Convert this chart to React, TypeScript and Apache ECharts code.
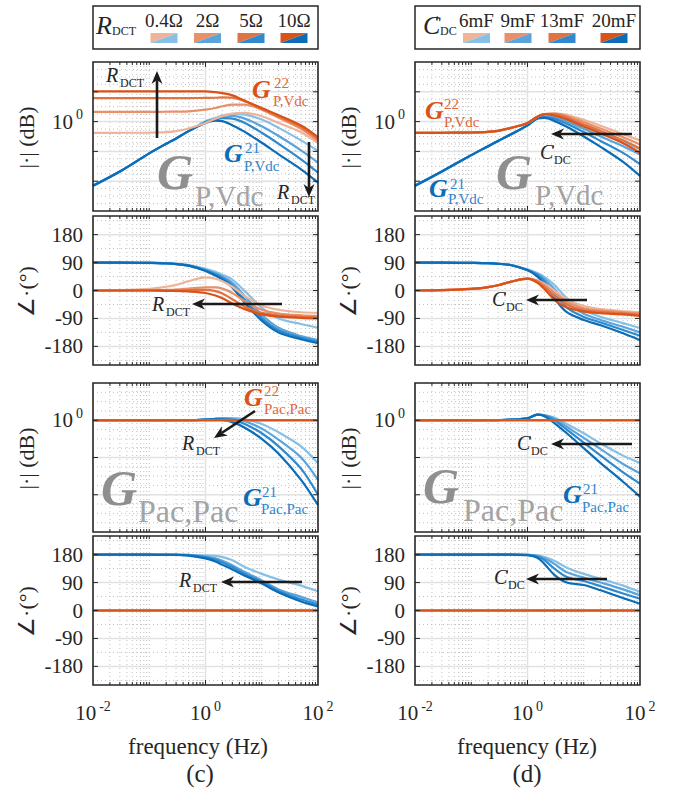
import React, { useEffect, useRef } from "react";
import * as echarts from "echarts";

// ---------------- data ----------------
const FREQ = [0.01, 0.03, 0.1, 0.2, 0.3, 0.5, 1, 1.5, 2, 3, 5, 10, 20, 50, 100];

const R_DCT_LABELS = ["0.4Ω", "2Ω", "5Ω", "10Ω"];
const C_DC_LABELS = ["6mF", "9mF", "13mF", "20mF"];
const X_LABEL_EXPONENTS = [-2, 0, 2];
const PHASE_TICKS = [-180, -90, 0, 90, 180];
const MAG_TICK_LABELLED = 0;

const ZERO15 = [0, 0, 0, 0, 0, 0, 0, 0, 0, 0, 0, 0, 0, 0, 0];

// (c) sweep of R_DCT : 0.4, 2, 5, 10 ohm
const cMagG21 = [
  [-43.1, -33.5, -21.3, -14.9, -11.3, -6.4, 0.3, 2.5, 4.0, 5.1, 4.7, 1.4, -4.2, -12.6, -19.7],
  [-43.1, -33.5, -21.3, -14.9, -11.3, -6.4, -0.2, 1.8, 3.1, 3.8, 2.0, -3.1, -9.7, -19.3, -27.5],
  [-43.1, -33.5, -21.3, -14.9, -11.3, -6.4, -0.4, 1.4, 2.3, 2.0, -0.9, -7.5, -14.9, -25.3, -34.2],
  [-43.1, -33.5, -21.3, -14.9, -11.3, -6.4, -0.9, 0.7, 0.3, -2.4, -6.9, -14.2, -22.0, -32.0, -40.9],
];
const cMagG22 = [
  [-7.5, -7.5, -7.4, -7.1, -6.4, -4.6, -0.9, 2.0, 3.6, 5.4, 5.8, 3.6, -0.9, -7.1, -14.4],
  [6.5, 6.5, 6.5, 6.6, 6.7, 6.9, 8.0, 9.1, 10.3, 11.4, 11.4, 8.0, 2.5, -4.9, -13.1],
  [15.8, 15.8, 15.8, 15.8, 15.8, 15.8, 15.9, 16.0, 16.3, 16.0, 13.6, 8.5, 3.4, -3.7, -11.7],
  [20.3, 20.3, 20.3, 20.3, 20.3, 20.3, 20.3, 19.8, 19.1, 17.6, 14.0, 9.1, 4.3, -2.6, -10.4],
];
const cPhG21 = [
  [90, 90, 89, 88, 86, 82, 70, 60, 51, 35, -2, -55, -90, -108, -120],
  [90, 90, 89, 88, 86, 81, 67, 55, 45, 25, -18, -78, -120, -147, -160],
  [90, 90, 89, 88, 85, 80, 65, 52, 40, 17, -30, -88, -128, -152, -165],
  [90, 90, 89, 87, 85, 80, 63, 48, 35, 10, -40, -97, -135, -157, -170],
];
const cPhG22 = [
  [0, 1, 5, 12, 18, 30, 42, 38, 30, 12, -18, -48, -62, -70, -72],
  [0, 0, 1, 2, 3, 6, 10, 10, 6, -8, -35, -62, -74, -80, -82],
  [0, 0, 0, 0, 0, 1, 2, -2, -10, -28, -52, -72, -80, -85, -87],
  [0, 0, 0, -1, -1, -3, -8, -16, -25, -42, -60, -77, -84, -88, -90],
];
const cPacMagG21 = [
  [0, 0, 0, 0, 0, 0, 0.3, 0.8, 1.1, 1.2, 0.5, -2.0, -6.5, -14.0, -23.0],
  [0, 0, 0, 0, 0, 0, 0.3, 0.8, 1.0, 0.8, -0.5, -4.5, -10.5, -20.0, -32.0],
  [0, 0, 0, 0, 0, 0, 0.3, 0.7, 0.8, 0.2, -2.0, -7.0, -14.0, -26.0, -40.0],
  [0, 0, 0, 0, 0, 0, 0.3, 0.5, 0.2, -1.0, -4.0, -10.0, -18.0, -32.0, -45.5],
];
const cPacMagG22 = [ZERO15, ZERO15, ZERO15, ZERO15];
const cPacPhG21 = [
  [180, 180, 180, 180, 180, 179, 178, 176, 172, 162, 140, 118, 100, 80, 62],
  [180, 180, 180, 180, 180, 179, 174, 168, 160, 146, 124, 97, 68, 44, 26],
  [180, 180, 180, 180, 179, 178, 172, 164, 155, 140, 118, 92, 63, 36, 19],
  [180, 180, 180, 179, 179, 177, 168, 158, 147, 132, 112, 87, 58, 29, 13],
];
const cPacPhG22 = [ZERO15, ZERO15, ZERO15, ZERO15];

// (d) sweep of C_DC : 6, 9, 13, 20 mF
const dMagG21 = [
  [-43.1, -33.5, -22.5, -16.5, -13.0, -8.7, -2.5, 2.3, 3.2, 3.3, 1.2, -3.0, -7.5, -13.5, -18.6],
  [-43.1, -33.5, -22.5, -16.5, -13.0, -8.7, -2.5, 2.3, 3.1, 2.8, 0.0, -4.8, -10.0, -16.5, -22.0],
  [-43.1, -33.5, -22.5, -16.5, -13.0, -8.7, -2.5, 2.3, 3.0, 2.0, -1.5, -7.0, -13.0, -21.0, -28.6],
  [-43.1, -33.5, -22.5, -16.5, -13.0, -8.7, -2.5, 2.2, 2.5, 0.5, -3.5, -10.0, -17.0, -27.0, -36.4],
];
const dMagG22 = [
  [-7.5, -7.5, -7.3, -6.9, -6.2, -4.3, -0.9, 3.3, 5.0, 5.6, 4.6, 1.2, -2.8, -8.5, -12.6],
  [-7.5, -7.5, -7.3, -6.9, -6.2, -4.3, -0.9, 3.3, 5.0, 5.4, 3.8, -0.3, -4.6, -10.5, -15.3],
  [-7.5, -7.5, -7.3, -6.9, -6.2, -4.3, -0.9, 3.3, 5.0, 5.0, 2.8, -1.8, -6.3, -12.5, -18.0],
  [-7.5, -7.5, -7.3, -6.9, -6.2, -4.3, -0.9, 3.3, 4.8, 4.2, 1.5, -3.3, -8.0, -14.5, -20.9],
];
const dPhG21 = [
  [90, 90, 89, 88, 86, 82, 68, 56, 44, 18, -25, -63, -85, -105, -121],
  [90, 90, 89, 88, 86, 82, 67, 53, 38, 5, -40, -75, -95, -117, -135],
  [90, 90, 89, 88, 86, 82, 66, 50, 30, -10, -55, -85, -103, -127, -146],
  [90, 90, 89, 88, 86, 82, 65, 45, 20, -25, -70, -95, -112, -138, -160],
];
const dPhG22 = [
  [0, 1, 5, 11, 17, 28, 38, 33, 22, 0, -28, -50, -60, -66, -70],
  [0, 1, 5, 11, 17, 28, 38, 31, 17, -8, -37, -57, -65, -70, -74],
  [0, 1, 5, 11, 17, 28, 38, 28, 11, -18, -46, -63, -69, -74, -78],
  [0, 1, 5, 11, 17, 28, 38, 25, 5, -30, -55, -68, -73, -77, -82],
];
const dPacMagG21 = [
  [0, 0, 0, 0, 0.1, 0.3, 1.0, 3.0, 2.8, 1.5, -2.0, -7.0, -12.5, -19.0, -23.0],
  [0, 0, 0, 0, 0.1, 0.3, 1.0, 3.0, 2.7, 0.8, -3.5, -9.5, -15.5, -23.5, -28.5],
  [0, 0, 0, 0, 0.1, 0.3, 1.0, 3.0, 2.5, 0.0, -5.0, -12.0, -19.0, -28.0, -34.0],
  [0, 0, 0, 0, 0.1, 0.3, 1.0, 3.0, 2.2, -1.5, -7.0, -15.0, -23.0, -33.0, -41.0],
];
const dPacMagG22 = [ZERO15, ZERO15, ZERO15, ZERO15];
const dPacPhG21 = [
  [180, 180, 180, 180, 180, 180, 179, 178, 172, 160, 138, 118, 102, 80, 60],
  [180, 180, 180, 180, 180, 180, 179, 176, 168, 150, 123, 106, 90, 68, 49],
  [180, 180, 180, 180, 180, 180, 179, 174, 162, 135, 108, 95, 78, 55, 38],
  [180, 180, 180, 180, 180, 180, 178, 170, 150, 115, 90, 82, 65, 40, 22],
];
const dPacPhG22 = [ZERO15, ZERO15, ZERO15, ZERO15];

// ---------------- styles ----------------
const ORANGE = ["#EFB398", "#E8906A", "#E27340", "#D95319"];
const BLUE = ["#86C0E6", "#5AA4DB", "#2E89CF", "#0B6DB7"];
const SERIF = "Liberation Serif";
const INK = "#262626";

const COL_LEFT = [93, 415];
const PLOT_W = 225;
const ROW_TOP = [62, 216, 383, 536];
const PLOT_H = 149;
// [min, max, interval]
const Y_RANGE = [
  [-60, 40, 20],
  [-240, 240, 30],
  [-60, 20, 20],
  [-240, 240, 30],
];

const X_MINOR: number[] = [];
[-2, -1, 0, 1].forEach((d) => {
  for (let k = 1; k <= 9; k++) {
    if (k === 1 && (d === -2 || d === 0)) continue;
    X_MINOR.push(k * Math.pow(10, d));
  }
});
const X_MAJOR_INNER = [1];

function yGrid(row: number) {
  const [mn, mx] = Y_RANGE[row];
  const major: number[] = [];
  const minor: number[] = [];
  if (row === 1 || row === 3) {
    PHASE_TICKS.forEach((v) => major.push(v));
    [-225, -135, -45, 45, 135, 225].forEach((v) => minor.push(v));
  } else {
    for (let v = mn; v <= mx; v += 5) {
      if (v === mn || v === mx) continue;
      if (v % 20 === 0) major.push(v);
      else minor.push(v);
    }
  }
  return { major, minor };
}

const TICK_RICH = {
  b: { fontSize: 21, fontFamily: SERIF, color: INK, lineHeight: 28 },
  s: { fontSize: 14, fontFamily: SERIF, color: INK, lineHeight: 14, verticalAlign: "top", padding: [0, 0, 0, 3] },
};

function txt(x: number, y: number, text: string, size: number, o: any = {}) {
  return {
    type: "text",
    x,
    y,
    z: 100,
    silent: true,
    rotation: o.rot || 0,
    style: {
      text,
      fontSize: size,
      fontFamily: SERIF,
      fontStyle: o.italic ? "italic" : "normal",
      fontWeight: o.bold ? "bold" : "normal",
      fill: o.fill || INK,
      align: o.align || "left",
      verticalAlign: "middle",
    },
  };
}

function arrow(x1: number, y1: number, x2: number, y2: number) {
  const a = Math.atan2(y2 - y1, x2 - x1);
  const L = 13;
  const Wd = 5.5;
  const c = Math.cos(a);
  const s = Math.sin(a);
  const bx = x2 - L * c;
  const by = y2 - L * s;
  const nx = x2 - L * 0.7 * c;
  const ny = y2 - L * 0.7 * s;
  const px = -s * Wd;
  const py = c * Wd;
  return [
    { type: "line", z: 99, silent: true, shape: { x1, y1, x2: nx, y2: ny }, style: { stroke: "#1a1a1a", lineWidth: 2.6 } },
    {
      type: "polygon",
      z: 99,
      silent: true,
      shape: { points: [[x2, y2], [bx + px, by + py], [nx, ny], [bx - px, by - py]] },
      style: { fill: "#1a1a1a" },
    },
  ];
}

// small serif tick on the italic C (as drawn in the reference)
function cMark(x: number, y: number, s: number) {
  return {
    type: "line",
    z: 101,
    silent: true,
    shape: { x1: x, y1: y, x2: x - 0.8 * s, y2: y + 4 * s },
    style: { stroke: INK, lineWidth: 1.4 * s },
  };
}

const O_MAIN = "#D95319";
const O_SUB = "#E0683A";
const B_MAIN = "#0B6DB7";
const B_SUB = "#2F86CF";
const G_MAIN = "#8f8f8f";
const G_SUB = "#a3a3a3";

function gLabel(x: number, y: number, sup: string, sub: string, main: string, subc: string, supDx: number, supDy: number, subDy: number, subDx: number) {
  return [
    txt(x, y, "G", 26, { italic: true, bold: true, fill: main }),
    txt(x + supDx, y + supDy, sup, 15, { fill: subc }),
    txt(x + subDx, y + subDy, sub, 15, { fill: subc }),
  ];
}

function rLabel(x: number, y: number) {
  return [txt(x, y, "R", 20, { italic: true }), txt(x + 14, y + 8, "DCT", 12)];
}
function cLabel(x: number, y: number) {
  return [txt(x, y, "C", 20, { italic: true }), cMark(x + 13.5, y - 6.5, 0.8), txt(x + 14, y + 8, "DC", 12)];
}

function buildGraphics() {
  const g: any[] = [];
  // legend boxes
  g.push({ type: "rect", z: 90, silent: true, shape: { x: 93, y: 6, width: 225, height: 43 }, style: { fill: "#fff", stroke: INK, lineWidth: 1.5 } });
  g.push({ type: "rect", z: 90, silent: true, shape: { x: 415, y: 6, width: 225, height: 43 }, style: { fill: "#fff", stroke: INK, lineWidth: 1.5 } });
  g.push(txt(96, 25, "R", 26, { italic: true }));
  g.push(txt(112, 31, "DCT", 12));
  g.push(txt(423, 25, "C", 26, { italic: true }));
  g.push(cMark(437.5, 16.5, 1));
  g.push(txt(440, 31, "DC", 12));
  const lCent = [164, 207.5, 251, 294];
  const rCent = [476.5, 518, 562, 614];
  const sw = (cx: number, i: number) => {
    const x0 = cx - 13.5, x1 = cx + 13.5, y0 = 33, y1 = 43;
    g.push({ type: "polygon", z: 95, silent: true, shape: { points: [[x0, y0], [x1, y0], [x0, y1]] }, style: { fill: ORANGE[i] } });
    g.push({ type: "polygon", z: 95, silent: true, shape: { points: [[x1, y0], [x1, y1], [x0, y1]] }, style: { fill: BLUE[i] } });
  };
  R_DCT_LABELS.forEach((t, i) => {
    g.push(txt(lCent[i], 20, t, 19, { align: "center" }));
    sw(lCent[i], i);
  });
  C_DC_LABELS.forEach((t, i) => {
    g.push(txt(rCent[i], 20, t, 19, { align: "center" }));
    sw(rCent[i], i);
  });

  // y-axis names
  const yNames = ["|·| (dB)", "∠·(°)", "|·| (dB)", "∠·(°)"];
  ROW_TOP.forEach((t, r) => {
    [26, 348].forEach((x) => g.push(txt(x, t + PLOT_H / 2 + 1, yNames[r], 22, { rot: Math.PI / 2, align: "center" })));
  });
  // x-axis names and panel tags
  g.push(txt(198, 746, "frequency (Hz)", 23, { align: "center" }));
  g.push(txt(527, 746, "frequency (Hz)", 23, { align: "center" }));
  g.push(txt(200, 773, "(c)", 25, { align: "center" }));
  g.push(txt(527, 773, "(d)", 25, { align: "center" }));

  // ---- (c) annotations
  g.push(...rLabel(106, 75));
  g.push(...arrow(157, 138, 157, 71));
  g.push(...gLabel(252, 89, "22", "P,Vdc", O_MAIN, O_SUB, 22, -6, 12, 21));
  g.push(...gLabel(224, 153, "21", "P,Vdc", B_MAIN, B_SUB, 21, -5, 13, 20));
  g.push(txt(157, 172, "G", 50, { italic: true, bold: true, fill: G_MAIN }));
  g.push(txt(195, 196, "P,Vdc", 29, { fill: G_SUB }));
  g.push(...arrow(309, 142, 309, 197));
  g.push(...rLabel(277, 192));

  g.push(...arrow(282, 304, 192, 304));
  g.push(...rLabel(152, 304));

  g.push(...gLabel(244, 397, "22", "Pac,Pac", O_MAIN, O_SUB, 20, -6, 12, 20));
  g.push(...arrow(255, 411, 214, 438));
  g.push(...rLabel(182, 443));
  g.push(txt(101, 488, "G", 50, { italic: true, bold: true, fill: G_MAIN }));
  g.push(txt(138, 511, "Pac,Pac", 32, { fill: G_SUB }));
  g.push(...gLabel(243, 497, "21", "Pac,Pac", B_MAIN, B_SUB, 19, -5, 12, 18));

  g.push(...arrow(302, 582, 221, 582));
  g.push(...rLabel(179, 580));

  // ---- (d) annotations
  g.push(...gLabel(425, 110, "22", "P,Vdc", O_MAIN, O_SUB, 19, -6, 12, 19));
  g.push(...arrow(632, 134, 551, 134));
  g.push(...cLabel(540, 152));
  g.push(txt(496, 172, "G", 50, { italic: true, bold: true, fill: G_MAIN }));
  g.push(txt(535, 195, "P,Vdc", 29, { fill: G_SUB }));
  g.push(...gLabel(429, 188, "21", "P,Vdc", B_MAIN, B_SUB, 21, -4, 11, 19));

  g.push(...arrow(587, 300, 526, 300));
  g.push(...cLabel(492, 299));

  g.push(...arrow(632, 444, 551, 444));
  g.push(...cLabel(517, 443));
  g.push(txt(423, 486, "G", 50, { italic: true, bold: true, fill: G_MAIN }));
  g.push(txt(463, 510, "Pac,Pac", 32, { fill: G_SUB }));
  g.push(...gLabel(563, 494, "21", "Pac,Pac", B_MAIN, B_SUB, 20, -5, 13, 19));

  g.push(...arrow(607, 579, 526, 579));
  g.push(...cLabel(494, 577));
  return g;
}

function bgRender(row: number) {
  const { major, minor } = yGrid(row);
  return (params: any, api: any) => {
    const cs = params.coordSys;
    const L = cs.x, T = cs.y, R = cs.x + cs.width, B = cs.y + cs.height;
    const ch: any[] = [];
    const dotted = { stroke: "#c2c2c2", lineWidth: 1, lineDash: [1, 3] };
    const solid = { stroke: "#e1e1e1", lineWidth: 1.5 };
    X_MINOR.forEach((v) => {
      const x = api.coord([v, 0])[0];
      ch.push({ type: "line", shape: { x1: x, y1: T, x2: x, y2: B }, style: dotted });
    });
    minor.forEach((v) => {
      const y = api.coord([1, v])[1];
      ch.push({ type: "line", shape: { x1: L, y1: y, x2: R, y2: y }, style: dotted });
    });
    X_MAJOR_INNER.forEach((v) => {
      const x = api.coord([v, 0])[0];
      ch.push({ type: "line", shape: { x1: x, y1: T, x2: x, y2: B }, style: solid });
    });
    major.forEach((v) => {
      const y = api.coord([1, v])[1];
      ch.push({ type: "line", shape: { x1: L, y1: y, x2: R, y2: y }, style: solid });
    });
    return { type: "group", children: ch };
  };
}

function frameRender(row: number) {
  const { major } = yGrid(row);
  return (params: any, api: any) => {
    const cs = params.coordSys;
    const L = cs.x, T = cs.y, R = cs.x + cs.width, B = cs.y + cs.height;
    const ch: any[] = [];
    const st = { stroke: INK, lineWidth: 1 };
    X_MINOR.forEach((v) => {
      const x = api.coord([v, 0])[0];
      ch.push({ type: "line", shape: { x1: x, y1: B, x2: x, y2: B - 3 }, style: st });
      ch.push({ type: "line", shape: { x1: x, y1: T, x2: x, y2: T + 3 }, style: st });
    });
    X_MAJOR_INNER.forEach((v) => {
      const x = api.coord([v, 0])[0];
      ch.push({ type: "line", shape: { x1: x, y1: B, x2: x, y2: B - 5 }, style: st });
      ch.push({ type: "line", shape: { x1: x, y1: T, x2: x, y2: T + 5 }, style: st });
    });
    major.forEach((v) => {
      const y = api.coord([1, v])[1];
      ch.push({ type: "line", shape: { x1: L, y1: y, x2: L + 5, y2: y }, style: st });
      ch.push({ type: "line", shape: { x1: R, y1: y, x2: R - 5, y2: y }, style: st });
    });
    ch.push({ type: "rect", shape: { x: L, y: T, width: R - L, height: B - T }, style: { fill: "none", stroke: INK, lineWidth: 1.6 } });
    return { type: "group", children: ch };
  };
}

function buildOption() {
  const panels = [
    [cMagG21, cMagG22],
    [cPhG21, cPhG22],
    [cPacMagG21, cPacMagG22],
    [cPacPhG21, cPacPhG22],
    [dMagG21, dMagG22],
    [dPhG21, dPhG22],
    [dPacMagG21, dPacMagG22],
    [dPacPhG21, dPacPhG22],
  ];
  const grid: any[] = [];
  const xAxis: any[] = [];
  const yAxis: any[] = [];
  const series: any[] = [];
  panels.forEach((p, i) => {
    const col = Math.floor(i / 4);
    const row = i % 4;
    const [mn, mx, iv] = Y_RANGE[row];
    grid.push({ left: COL_LEFT[col], top: ROW_TOP[row], width: PLOT_W, height: PLOT_H, containLabel: false });
    xAxis.push({
      type: "log",
      logBase: 10,
      gridIndex: i,
      min: 0.01,
      max: 100,
      axisLine: { show: false },
      axisTick: { show: false },
      splitLine: { show: false },
      axisLabel:
        row === 3
          ? {
              show: true,
              margin: 14,
              formatter: (v: number) => {
                const e = Math.round(Math.log10(v));
                return X_LABEL_EXPONENTS.includes(e) ? `{b|10}{s|${e}}` : "";
              },
              rich: TICK_RICH,
            }
          : { show: false },
    });
    const isPhase = row === 1 || row === 3;
    yAxis.push({
      type: "value",
      gridIndex: i,
      min: mn,
      max: mx,
      interval: iv,
      axisLine: { show: false },
      axisTick: { show: false },
      splitLine: { show: false },
      axisLabel: {
        show: true,
        margin: 10,
        fontSize: 21,
        fontFamily: SERIF,
        color: INK,
        formatter: isPhase
          ? (v: number) => (PHASE_TICKS.includes(v) ? String(v) : "")
          : (v: number) => (Math.abs(v - MAG_TICK_LABELLED) < 1e-9 ? "{b|10}{s|0}" : ""),
        rich: TICK_RICH,
      },
    });
    series.push({
      type: "custom",
      xAxisIndex: i,
      yAxisIndex: i,
      silent: true,
      z: 1,
      data: [[1, 0]],
      renderItem: bgRender(row),
    });
    const [g21, g22] = p;
    g21.forEach((vals, k) =>
      series.push({
        type: "line",
        xAxisIndex: i,
        yAxisIndex: i,
        data: FREQ.map((f, j) => [f, vals[j]]),
        showSymbol: false,
        symbol: "none",
        smooth: 0.3,
        clip: true,
        silent: true,
        z: 3,
        lineStyle: { width: 2.2, color: BLUE[k] },
      })
    );
    g22.forEach((vals, k) =>
      series.push({
        type: "line",
        xAxisIndex: i,
        yAxisIndex: i,
        data: FREQ.map((f, j) => [f, vals[j]]),
        showSymbol: false,
        symbol: "none",
        smooth: 0.3,
        clip: true,
        silent: true,
        z: 4,
        lineStyle: { width: 2.2, color: ORANGE[k] },
      })
    );
    series.push({
      type: "custom",
      xAxisIndex: i,
      yAxisIndex: i,
      silent: true,
      z: 10,
      data: [[1, 0]],
      renderItem: frameRender(row),
    });
  });
  return {
    animation: false,
    backgroundColor: "#ffffff",
    textStyle: { fontFamily: SERIF },
    grid,
    xAxis,
    yAxis,
    series,
    graphic: { elements: buildGraphics() },
  };
}

export default function App() {
  const ref = useRef<HTMLDivElement>(null);
  useEffect(() => {
    if (!ref.current) return;
    const chart = echarts.init(ref.current, undefined, { renderer: "svg" });
    chart.setOption(buildOption() as any);
    return () => chart.dispose();
  }, []);
  return <div ref={ref} style={{ position: "absolute", left: 0, top: 0, width: 676, height: 796 }} />;
}
